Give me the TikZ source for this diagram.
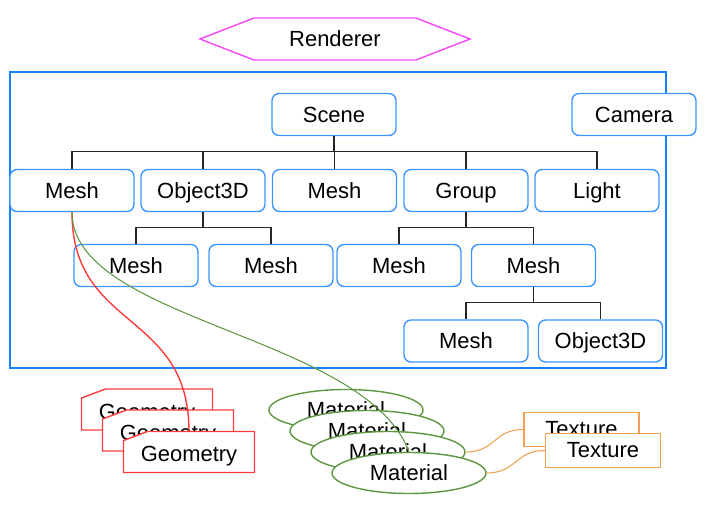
\documentclass[tikz,border=0pt]{standalone}
\usepackage{fontspec}
\setmainfont{Liberation Sans}
\usetikzlibrary{calc,shapes.geometric}
\definecolor{objblue}{RGB}{60,150,255}
\definecolor{sceneblue}{RGB}{20,130,255}
\definecolor{rendpink}{RGB}{245,70,245}
\definecolor{geored}{RGB}{255,60,60}
\definecolor{matgreen}{RGB}{95,150,65}
\definecolor{texorange}{RGB}{240,160,80}
\def\geocard(#1,#2){\draw[geored,line width=0.8pt,fill=white] ($(#1,#2)+(-65.5,-11.5)$) -- ++(24,-9) -- ++(107,0) -- ++(0,41) -- ++(-131,0) -- cycle;}

\begin{document}
\begin{tikzpicture}[x=0.02cm,y=-0.02cm,
		every node/.style={font=\fontsize{12.5}{15}\selectfont},
		obj/.style={draw=objblue,line width=0.8pt,rounded corners=4pt,fill=white,text depth=0pt,minimum width=2.48cm,minimum height=0.84cm},
		tree/.style={line width=0.6pt,black!85},
		geo/.style={minimum width=2.62cm,minimum height=0.98cm},
		mat/.style={ellipse,draw=matgreen,line width=0.8pt,fill=white,minimum width=3.08cm,minimum height=0.82cm},
		tex/.style={draw=texorange,line width=0.8pt,fill=white,minimum width=2.3cm,minimum height=0.68cm}]
				\useasboundingbox (0,0) rectangle (711,514);
				
				\node (renderer) at (335,39) {Renderer};
				\draw[rendpink,line width=0.8pt] ($(renderer)+(-135,0)$) -- ++(54,-21) -- ++(162,0) -- ++(54,21) -- ++(-54,21) -- ++(-162,0) -- cycle;
				
				\draw[sceneblue,line width=0.8pt] (10,72) rectangle (666,368);
				
				\node[obj] (scene) at (334,114.5) {Scene};
				\node[obj] (camera) at (634,114.5) {Camera};
				
				\node[obj] (mesha) at (72,190.5) {Mesh};
				\node[obj] (obja) at (203,190.5) {Object3D};
				\node[obj] (meshb) at (334.5,190.5) {Mesh};
				\node[obj] (group) at (466,190.5) {Group};
				\node[obj] (light) at (597,190.5) {Light};
				
				\node[obj] (meshc) at (136,265.5) {Mesh};
				\node[obj] (meshd) at (271,265.5) {Mesh};
				\node[obj] (meshe) at (399,265.5) {Mesh};
				\node[obj] (meshf) at (533.5,265.5) {Mesh};
				
				\node[obj] (meshg) at (466,341) {Mesh};
				\node[obj] (objb) at (600.5,341) {Object3D};
				
				\foreach \c in {mesha,obja,meshb,group,light}
					\draw[tree] (scene.south) |- ($(\c.north)+(0,-17)$) -- (\c.north);
				\foreach \c in {meshc,meshd}
					\draw[tree] (obja.south) |- ($(\c.north)+(0,-16)$) -- (\c.north);
				\foreach \c in {meshe,meshf}
					\draw[tree] (group.south) |- ($(\c.north)+(0,-16)$) -- (\c.north);
				\foreach \c in {meshg,objb}
					\draw[tree] (meshf.south) |- ($(\c.north)+(0,-17)$) -- (\c.north);
				
				\geocard(147,409.5)
				\node[geo] (geoa) at (147,414) {Geometry};
				\geocard(168,430.5)
				\node[geo] (geob) at (168,435) {Geometry};
				\geocard(189,452)
				\node[geo] (geoc) at (189,456.5) {Geometry};
				
				\node[mat] (mata) at (346,410) {Material};
				\node[mat] (matb) at (367,431) {Material};
				\node[mat] (matc) at (388,452) {Material};
				\node[mat] (matd) at (409,473) {Material};
				
				\node[tex] (texa) at (581.5,429.5) {Texture};
				\node[tex] (texb) at (603,450.5) {Texture};
				
				\draw[geored,line width=0.8pt] (mesha.south) .. controls +(0,119) and +(0,-122) .. (geoc.north);
				\draw[matgreen,line width=0.6pt] (mesha.south) .. controls +(0,109) and +(-44,-117) .. (matd.north);
				\draw[texorange,line width=0.6pt] (matc.east) .. controls +(30,0) and +(-30,0) .. (texa.west);
				\draw[texorange,line width=0.6pt] (matd.east) .. controls +(30,0) and +(-30,0) .. (texb.west);
			\end{tikzpicture}
\end{document}
